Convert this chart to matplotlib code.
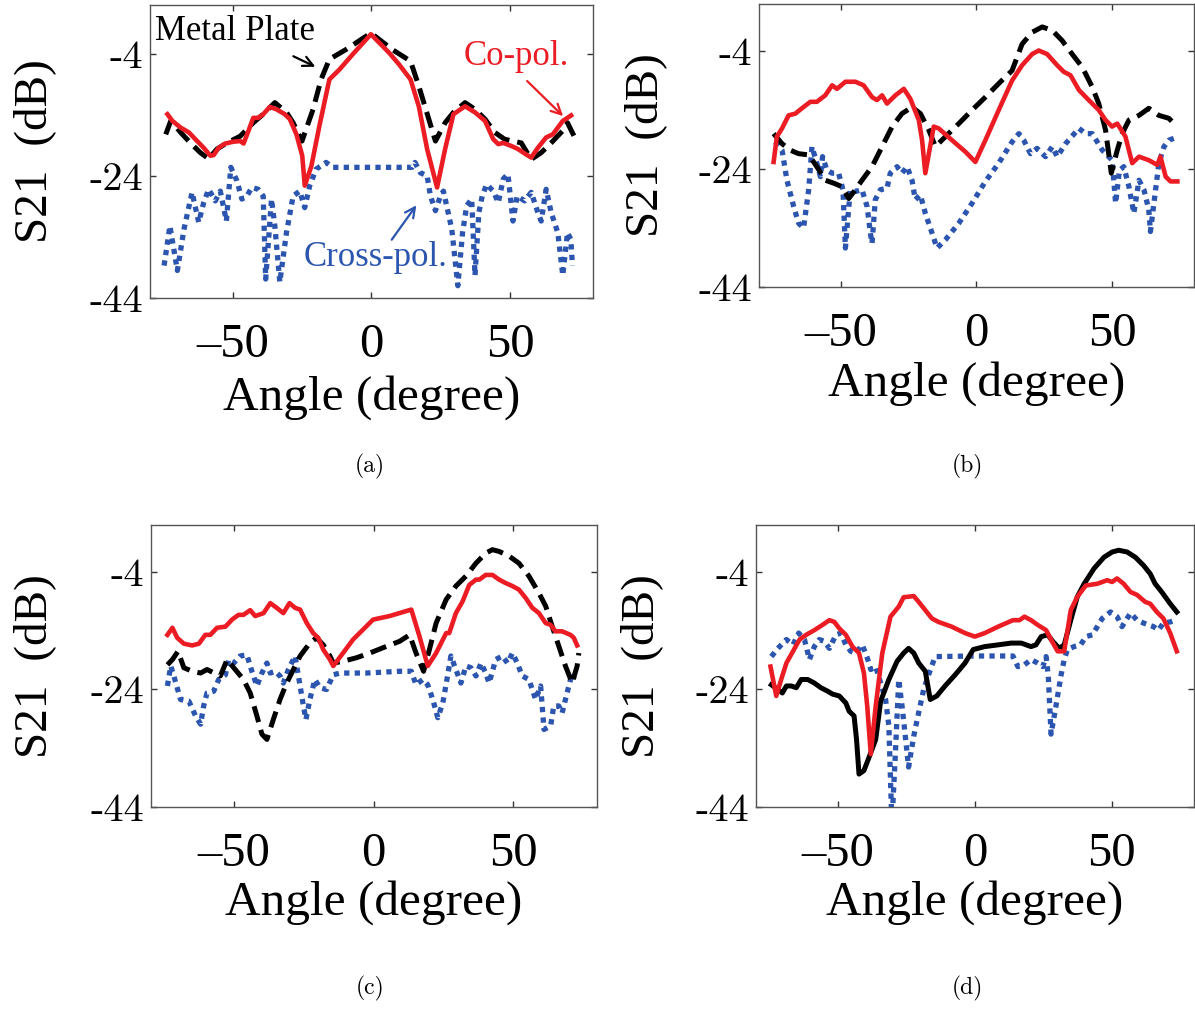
import matplotlib
matplotlib.use("Agg")
import matplotlib.pyplot as plt

plt.rcParams["font.family"] = ["Liberation Serif", "DejaVu Serif"]
plt.rcParams["axes.unicode_minus"] = False

# ---------------- common axis settings ----------------
x_ticks = [-50, 0, 50]
x_tick_labels = ["\u201350", "0", "50"]
y_ticks = [-4, -24, -44]
y_tick_labels = ["-4", "-24", "-44"]
x_range = (-80, 80)
y_range = (-44, 4)
panel_labels = ["(a)", "(b)", "(c)", "(d)"]

# ---------------- panel (a) ----------------
a_co_ang = [-73.7, -71.9, -68.9, -65.9, -63.6, -60.6, -58.2, -57.0, -55.2, -52.8, -49.8, -47.4, -46.2,
            -44.4, -42.7, -40.9, -39.1, -36.7, -34.3, -31.3, -29.5, -27.1, -25.0, -24.1, -21.7, -18.8,
            -15.2, -11.6, -6.8, -0.2, 6.3, 9.9, 14.1, 17.1, 20.1, 23.7, 26.6, 29.6, 33.8, 37.4, 41.0,
            44.0, 45.8, 47.6, 50.5, 52.9, 55.9, 57.7, 60.1, 63.1, 65.5, 69.1, 72.1]
a_co_db = [-13.9, -15.0, -16.1, -16.9, -18.0, -19.4, -20.7, -20.6, -19.4, -18.7, -18.4, -18.3, -18.7,
           -16.6, -14.5, -14.5, -13.9, -12.7, -13.1, -13.9, -14.7, -17.2, -20.7, -25.6, -22.4, -15.8,
           -8.2, -6.6, -4.1, -0.8, -3.8, -5.7, -8.2, -12.6, -19.6, -25.9, -19.6, -13.9, -12.6, -13.6,
           -15.0, -18.0, -18.8, -18.6, -19.1, -19.6, -20.5, -21.0, -19.4, -17.7, -17.2, -15.0, -14.1]

a_metal_ang = [-74.3, -72.5, -68.9, -65.4, -61.8, -58.8, -55.8, -52.2, -47.4, -42.7, -39.1, -34.9, -30.7,
               -28.3, -25.1, -21.1, -18.2, -15.2, -9.2, -0.2, 7.5, 14.1, 17.1, 20.7, 23.1, 26.6, 29.6,
               33.8, 37.4, 41.0, 44.6, 48.1, 54.1, 57.7, 61.3, 64.9, 69.1, 70.8, 73.2]
a_metal_db = [-17.2, -15.0, -16.9, -18.6, -20.2, -21.2, -19.6, -18.6, -17.5, -15.3, -13.9, -12.0, -13.6,
              -15.3, -18.3, -13.1, -8.2, -4.9, -3.3, -0.6, -3.3, -5.2, -9.3, -14.7, -18.3, -15.3, -13.6,
              -12.0, -13.1, -14.7, -16.9, -18.0, -18.6, -21.3, -20.2, -18.6, -16.6, -15.3, -17.5]

a_cross_ang = [-74.9, -72.8, -70.1, -67.7, -64.8, -62.4, -60.6, -58.8, -56.4, -54.6, -52.4, -50.8, -48.6,
               -46.8, -45.0, -43.2, -40.9, -39.1, -38.2, -36.1, -34.9, -33.1, -30.7, -28.3, -25.9, -24.1,
               -22.3, -20.0, -16.4, -14.0, 0.4, 14.7, 15.7, 17.7, 20.1, 21.3, 23.1, 24.9, 26.0, 29.0,
               31.2, 32.9, 34.4, 36.2, 37.4, 38.8, 40.0, 41.6, 44.0, 45.8, 47.6, 49.3, 51.1, 52.6, 55.3,
               57.7, 60.1, 61.3, 63.1, 64.9, 67.3, 69.1, 70.8, 72.0, 72.6]
a_cross_db = [-38.7, -32.2, -39.5, -32.7, -26.7, -31.6, -28.4, -26.2, -28.1, -26.5, -31.4, -22.6, -24.8,
              -27.8, -27.3, -25.9, -26.2, -27.3, -40.9, -27.8, -32.2, -41.4, -33.3, -27.3, -26.5, -29.2,
              -25.6, -22.9, -21.8, -22.6, -22.6, -22.6, -21.8, -23.5, -24.0, -27.3, -29.7, -27.3, -26.5,
              -32.7, -42.0, -33.3, -28.9, -27.8, -40.3, -30.0, -27.3, -25.4, -26.5, -28.4, -24.5, -23.7,
              -31.4, -27.3, -28.1, -26.7, -30.0, -31.4, -26.2, -30.0, -33.3, -40.3, -33.3, -34.4, -38.7]

# ---------------- panel (b) ----------------
b_co_ang = [-74.6, -73.4, -71.5, -69.1, -66.6, -64.2, -61.1, -58.7, -55.6, -53.1, -51.3, -48.2, -44.5,
            -41.5, -38.4, -36.6, -34.7, -32.9, -29.8, -26.7, -24.3, -21.2, -20.0, -18.8, -15.7, -13.9,
            -9.0, -4.0, -0.4, 3.3, 8.2, 13.1, 16.8, 20.5, 22.9, 26.0, 29.7, 32.1, 34.6, 37.7, 41.3, 45.0,
            47.5, 49.9, 51.8, 54.8, 57.3, 59.8, 63.4, 66.5, 67.7, 69.6, 71.4, 73.9]
b_co_db = [-22.8, -18.5, -17.1, -14.9, -14.6, -13.7, -12.6, -12.6, -11.5, -9.8, -10.4, -9.2, -9.2,
           -9.8, -11.8, -12.3, -11.5, -12.9, -11.5, -10.4, -12.1, -15.7, -19.1, -24.7, -16.8, -17.1,
           -19.1, -21.1, -22.8, -19.1, -14.0, -9.0, -6.4, -4.5, -3.9, -4.5, -6.4, -7.5, -8.1, -10.6,
           -12.3, -14.0, -15.7, -16.8, -16.3, -18.5, -23.0, -21.9, -22.5, -23.3, -21.9, -25.3, -26.1, -26.1]

b_metal_ang = [-74.6, -71.5, -68.5, -65.4, -61.7, -58.7, -55.6, -52.5, -49.4, -47.0, -44.5, -42.1, -38.4,
               -34.7, -31.0, -27.4, -23.7, -20.6, -17.5, -15.1, -11.4, -6.5, -1.6, 3.3, 8.2, 13.1, 16.8,
               20.5, 24.2, 27.9, 31.5, 35.2, 38.9, 42.6, 45.0, 47.5, 49.6, 51.8, 53.6, 56.1, 59.8, 63.4,
               67.1, 70.8, 73.3]
b_metal_db = [-18.0, -19.7, -20.8, -21.4, -21.6, -23.6, -25.9, -26.4, -27.0, -29.0, -27.5, -25.9, -23.6,
              -20.2, -16.8, -14.6, -13.5, -14.6, -17.4, -20.2, -18.5, -16.3, -14.0, -11.8, -9.5, -7.3,
              -2.8, -0.8, 0.1, -0.5, -2.2, -4.5, -6.7, -10.1, -12.9, -17.4, -24.7, -20.8, -18.0, -15.7,
              -14.9, -13.7, -14.9, -15.4, -16.6]

b_cross_ang = [-74.0, -71.5, -69.7, -67.2, -65.4, -63.6, -61.7, -60.5, -58.7, -57.4, -56.6, -55.0, -53.1,
               -50.7, -49.1, -48.2, -46.4, -44.5, -42.1, -40.2, -39.0, -38.4, -37.2, -35.3, -32.9, -31.7,
               -29.2, -27.4, -25.5, -23.7, -22.5, -20.6, -18.8, -16.3, -14.5, -11.4, -6.5, -1.6, 3.3, 8.2,
               13.1, 15.6, 17.4, 19.9, 22.3, 25.4, 27.9, 29.7, 32.8, 37.7, 40.1, 42.6, 46.3, 49.9, 51.2,
               52.6, 54.2, 56.1, 57.9, 59.8, 61.6, 63.4, 64.0, 65.9, 67.1, 69.0, 70.8, 72.6]
b_cross_db = [-19.4, -20.8, -25.9, -30.4, -33.2, -34.0, -27.5, -20.2, -23.0, -25.3, -21.9, -24.2, -24.7,
              -24.7, -27.5, -37.4, -27.5, -27.8, -27.5, -30.4, -34.9, -36.6, -29.2, -27.5, -27.3, -24.7,
              -23.6, -24.7, -23.6, -25.9, -29.2, -28.4, -31.5, -34.9, -37.4, -36.0, -33.2, -29.8, -26.1,
              -23.0, -19.4, -18.0, -19.1, -21.4, -20.5, -21.9, -20.2, -21.9, -19.7, -17.1, -18.0, -18.0,
              -20.8, -22.5, -29.8, -24.2, -23.6, -27.0, -31.5, -25.9, -27.5, -30.9, -34.6, -27.5, -23.0,
              -20.2, -19.1, -18.8]

# ---------------- panel (c) ----------------
c_co_ang = [-74.0, -72.2, -70.5, -68.1, -65.1, -62.7, -60.4, -58.6, -56.2, -53.2, -50.8, -48.5, -46.7,
            -44.3, -42.5, -39.5, -37.1, -34.8, -32.4, -30.2, -28.2, -26.4, -24.0, -21.7, -19.9, -18.1,
            -15.7, -14.5, -11.0, -7.4, -3.8, -0.2, 5.7, 13.5, 16.4, 19.4, 22.4, 26.0, 27.1, 29.5, 31.9,
            34.3, 36.7, 37.9, 40.2, 42.6, 45.0, 47.4, 49.8, 52.1, 54.5, 56.9, 59.3, 61.7, 63.5, 65.2,
            67.6, 70.6, 71.8, 73.0]
c_co_db = [-14.7, -13.5, -15.2, -16.2, -16.5, -16.2, -14.7, -14.7, -13.5, -13.3, -12.1, -11.3, -11.3,
           -10.5, -11.5, -11.0, -9.3, -10.1, -11.0, -9.3, -10.1, -10.4, -12.7, -14.4, -15.2, -17.2,
           -18.9, -20.0, -17.8, -15.5, -13.8, -12.1, -11.5, -10.4, -14.9, -20.0, -17.8, -14.4, -14.4,
           -11.0, -9.0, -6.2, -5.3, -5.3, -4.5, -4.5, -5.3, -5.9, -6.4, -7.0, -8.4, -10.1, -11.0,
           -12.7, -13.0, -14.1, -14.1, -14.7, -15.2, -16.5]

c_metal_ang = [-74.0, -72.2, -70.2, -68.1, -65.1, -62.1, -59.8, -56.8, -55.0, -52.6, -50.2, -46.7, -44.3,
               -41.9, -40.1, -38.3, -36.0, -33.6, -31.2, -28.8, -26.4, -22.9, -20.5, -18.1, -15.7, -14.5,
               -11.0, -6.2, -1.4, 3.3, 9.3, 12.9, 15.2, 17.9, 20.0, 22.4, 26.0, 29.5, 33.1, 36.7, 40.2,
               42.6, 45.0, 48.6, 52.1, 55.7, 59.3, 61.7, 64.0, 66.4, 68.8, 71.2, 73.0, 73.6]
c_metal_db = [-19.8, -18.9, -17.5, -20.3, -20.9, -21.2, -20.6, -21.3, -21.7, -18.9, -20.3, -22.3, -24.6,
              -28.5, -31.6, -32.5, -29.1, -25.7, -22.9, -20.6, -18.3, -16.1, -15.2, -16.4, -18.3, -19.5,
              -19.2, -18.6, -17.8, -16.9, -15.8, -14.7, -17.8, -20.9, -17.2, -12.7, -8.7, -6.4, -4.7,
              -2.5, -0.8, -0.2, -0.5, -1.3, -2.5, -4.7, -7.6, -9.8, -13.2, -16.6, -20.0, -22.9, -20.0, -17.8]

c_cross_ang = [-74.0, -72.8, -71.7, -69.3, -66.3, -63.9, -62.1, -61.0, -59.8, -57.4, -55.6, -53.2, -52.0,
               -50.2, -47.9, -45.5, -43.7, -41.9, -40.1, -38.3, -37.1, -35.4, -33.6, -32.4, -30.6, -28.2,
               -27.0, -25.2, -24.3, -22.9, -21.1, -19.3, -16.9, -14.5, -12.1, -2.6, 9.3, 13.5, 15.2, 17.6,
               19.4, 21.2, 23.0, 24.8, 26.5, 27.7, 29.5, 31.3, 33.1, 34.9, 36.7, 38.5, 40.2, 41.4, 43.8,
               46.2, 48.0, 49.8, 51.5, 53.3, 55.7, 58.1, 59.9, 61.1, 63.5, 64.6, 66.4, 67.6, 68.8, 71.2, 72.4]
c_cross_db = [-23.4, -20.0, -21.7, -25.7, -26.0, -28.5, -29.9, -26.8, -24.6, -24.3, -22.3, -21.5, -18.9,
              -19.5, -18.3, -18.1, -20.9, -23.4, -21.2, -19.5, -21.2, -20.9, -21.7, -22.9, -20.6, -18.3,
              -21.7, -26.8, -29.1, -25.7, -22.3, -23.7, -24.0, -21.5, -21.2, -21.2, -20.9, -20.9, -23.2,
              -22.3, -23.2, -25.7, -28.8, -26.3, -21.7, -18.3, -20.6, -22.9, -20.0, -20.3, -21.7, -19.5,
              -21.2, -22.9, -18.9, -18.3, -19.5, -17.8, -19.5, -21.7, -22.3, -25.7, -23.4, -30.8, -30.2,
              -26.8, -26.8, -28.0, -25.7, -21.2, -22.9]

# ---------------- panel (d) ----------------
d_co_ang = [-74.6, -72.5, -70.7, -68.8, -66.4, -64.0, -61.6, -58.6, -55.6, -53.1, -51.3, -49.5, -47.1,
            -44.7, -42.3, -40.5, -39.3, -38.0, -36.2, -33.8, -30.8, -27.8, -26.0, -22.3, -20.5, -18.1,
            -15.7, -13.3, -8.5, -3.6, 0.0, 3.6, 8.5, 13.9, 16.3, 18.1, 20.5, 22.9, 26.0, 27.8, 30.2,
            32.6, 35.0, 37.4, 40.5, 44.7, 48.3, 50.1, 51.9, 54.3, 56.8, 59.2, 62.2, 64.0, 66.4, 68.8,
            71.3, 73.7]
d_co_db = [-20.1, -25.1, -22.3, -19.5, -17.5, -15.5, -14.7, -13.9, -13.0, -12.2, -12.5, -13.6, -14.7,
           -16.7, -17.8, -21.2, -26.8, -35.0, -26.8, -17.8, -11.6, -9.9, -8.3, -8.1, -9.1, -10.5,
           -11.9, -12.5, -13.3, -14.4, -15.0, -14.4, -13.3, -12.2, -12.2, -11.6, -12.2, -13.0, -13.9,
           -15.5, -17.5, -17.5, -10.5, -8.2, -6.3, -6.0, -5.4, -5.7, -5.1, -6.0, -7.4, -7.9, -9.1,
           -9.4, -10.8, -11.9, -14.4, -17.5]

d_metal_ang = [-74.3, -71.9, -70.3, -68.8, -67.0, -65.2, -63.4, -61.0, -58.6, -56.2, -53.7, -51.9, -49.5,
               -47.1, -45.9, -44.1, -43.2, -42.3, -40.5, -38.6, -36.2, -34.4, -31.4, -28.4, -26.0, -24.2,
               -22.3, -20.5, -18.1, -16.3, -13.9, -10.9, -7.2, -3.6, -0.6, 3.6, 8.5, 13.3, 16.9, 20.5,
               22.3, 24.2, 26.6, 28.4, 30.8, 32.6, 35.0, 37.4, 39.9, 43.5, 47.1, 50.1, 52.5, 55.6, 58.6,
               61.6, 64.0, 65.8, 68.2, 71.3, 73.7]
d_metal_db = [-23.2, -24.0, -24.6, -23.4, -23.4, -23.7, -22.3, -22.3, -22.9, -23.7, -24.3, -24.8, -25.1,
              -26.3, -27.7, -28.5, -32.5, -38.4, -37.8, -35.5, -32.5, -26.0, -22.3, -19.2, -17.8, -17.0,
              -17.8, -19.5, -20.9, -25.7, -25.1, -23.4, -21.5, -19.5, -17.2, -16.7, -16.4, -16.1, -16.1,
              -16.7, -16.4, -15.0, -14.7, -15.8, -17.0, -16.4, -12.2, -8.2, -6.0, -3.4, -1.5, -0.6, -0.3,
              -0.6, -1.5, -2.9, -4.3, -6.0, -7.4, -9.4, -10.8]

d_cross_ang = [-74.3, -71.9, -68.8, -66.4, -64.3, -62.2, -60.4, -58.6, -56.8, -55.0, -53.1, -50.7, -48.9,
               -47.1, -45.3, -43.5, -41.1, -39.3, -38.0, -36.2, -34.4, -32.6, -31.4, -30.3, -29.0, -27.8,
               -26.6, -25.4, -24.2, -22.3, -20.5, -18.7, -16.9, -14.5, 0.0, 13.9, 15.7, 18.1, 20.5, 22.9,
               24.8, 26.0, 26.8, 27.8, 29.6, 31.4, 32.6, 33.8, 36.2, 38.6, 40.5, 42.9, 44.7, 46.5, 49.5,
               51.9, 53.7, 56.8, 59.2, 61.6, 63.4, 65.2, 67.0, 68.8, 71.3, 73.1]
d_cross_db = [-18.4, -17.0, -15.5, -16.4, -14.4, -15.5, -18.9, -16.7, -15.5, -15.8, -17.0, -14.7, -14.4,
              -16.4, -17.5, -17.8, -16.4, -18.6, -20.6, -20.1, -22.9, -25.7, -30.2, -47.0, -34.7, -22.3,
              -26.8, -31.9, -37.2, -31.9, -27.9, -24.0, -21.5, -18.4, -18.3, -18.3, -20.1, -19.8, -18.9,
              -19.5, -20.1, -18.4, -21.7, -31.6, -26.8, -21.7, -18.9, -17.2, -16.7, -16.4, -15.0, -14.7,
              -13.3, -11.9, -10.8, -11.6, -13.3, -11.0, -12.2, -12.7, -13.0, -13.3, -13.9, -12.7, -12.5,
              -12.2]

RED = "#EC1C24"
BLUE = "#2B55AE"
BLACK = "#000000"

panels = [
    dict(co=(a_co_ang, a_co_db), metal=(a_metal_ang, a_metal_db), cross=(a_cross_ang, a_cross_db), metal_ls="dash"),
    dict(co=(b_co_ang, b_co_db), metal=(b_metal_ang, b_metal_db), cross=(b_cross_ang, b_cross_db), metal_ls="dash"),
    dict(co=(c_co_ang, c_co_db), metal=(c_metal_ang, c_metal_db), cross=(c_cross_ang, c_cross_db), metal_ls="dash"),
    dict(co=(d_co_ang, d_co_db), metal=(d_metal_ang, d_metal_db), cross=(d_cross_ang, d_cross_db), metal_ls="solid"),
]

# axes rectangles [left, bottom, width, height] in figure fraction
rects = [
    [0.1255, 0.7047, 0.3707, 0.2904],
    [0.6351, 0.7156, 0.3640, 0.2805],
    [0.1261, 0.2002, 0.3732, 0.2795],
    [0.6324, 0.2002, 0.3668, 0.2795],
]
# sub-figure caption centres in figure fraction
caption_pos = [(0.3096, 0.5382), (0.8092, 0.5382), (0.3096, 0.0208), (0.8092, 0.0208)]

fig = plt.figure(figsize=(11.95, 10.09), dpi=100)

for i, (p, r) in enumerate(zip(panels, rects)):
    ax = fig.add_axes(r)
    cross_line, = ax.plot(*p["cross"], color=BLUE, lw=3.8, zorder=2)
    cross_line.set_linestyle((0, (1.0, 1.0)))
    cross_line.set_dash_capstyle("butt")
    metal_line, = ax.plot(*p["metal"], color=BLACK, lw=3.6, zorder=3)
    if p["metal_ls"] == "dash":
        metal_line.set_linestyle((0, (3.3, 1.6)))
    ax.plot(*p["co"], color=RED, lw=3.3, zorder=4, solid_joinstyle="round")

    ax.set_xlim(*x_range)
    ax.set_ylim(*y_range)
    ax.set_xticks(x_ticks)
    ax.set_xticklabels(x_tick_labels, fontsize=35, family=["Liberation Serif"])
    ax.set_yticks(y_ticks)
    ax.set_yticklabels(y_tick_labels, fontsize=29, family=["cmr10", "DejaVu Serif"])
    ax.tick_params(direction="in", length=4, width=1.0, top=True, right=True, colors="#333333")
    ax.tick_params(axis="x", pad=18, labelcolor="black")
    ax.tick_params(axis="y", pad=5, labelcolor="black")
    for s in ax.spines.values():
        s.set_color("#555555")
        s.set_linewidth(1.0)

    ax.set_xlabel("Angle (degree)", fontsize=35.5)
    ax.xaxis.set_label_coords(0.5, -0.34)
    ax.xaxis.label.set_verticalalignment("center")
    ax.set_ylabel("S21  (dB)", fontsize=34)
    ax.yaxis.set_label_coords(-0.26, 0.5)
    ax.yaxis.label.set_verticalalignment("center")

    fig.text(*caption_pos[i], panel_labels[i], ha="center", va="center",
             fontsize=17, family=["cmr10", "DejaVu Serif"])

    if i == 0:
        ax.text(0.192, 0.911, "Metal Plate", transform=ax.transAxes, ha="center", va="center",
                fontsize=25, color="black")
        ax.annotate("", xy=(0.379, 0.785), xytext=(0.318, 0.829), xycoords="axes fraction",
                    arrowprops=dict(arrowstyle="->", color="black", lw=1.6, mutation_scale=18))
        ax.text(0.826, 0.823, "Co-pol.", transform=ax.transAxes, ha="center", va="center",
                fontsize=25, color=RED)
        ax.annotate("", xy=(0.937, 0.614), xytext=(0.847, 0.747), xycoords="axes fraction",
                    arrowprops=dict(arrowstyle="->", color=RED, lw=1.6, mutation_scale=18))
        ax.text(0.51, 0.137, "Cross-pol.", transform=ax.transAxes, ha="center", va="center",
                fontsize=25, color=BLUE)
        ax.annotate("", xy=(0.605, 0.324), xytext=(0.542, 0.191), xycoords="axes fraction",
                    arrowprops=dict(arrowstyle="->", color=BLUE, lw=1.6, mutation_scale=18))

fig.savefig("out.png", dpi=100)
